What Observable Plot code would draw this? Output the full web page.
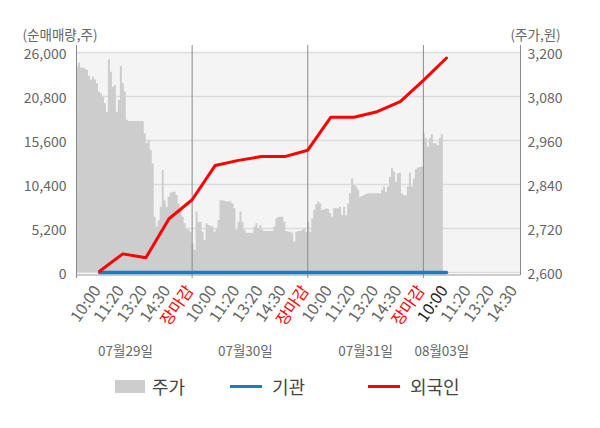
<!DOCTYPE html>
<html><head><meta charset="utf-8">
<script src="https://cdn.jsdelivr.net/npm/d3@7"></script>
<script src="https://cdn.jsdelivr.net/npm/@observablehq/plot@0.6"></script>
<style>
body{margin:0;background:#fff;font-family:"Noto Sans CJK KR","Noto Sans",sans-serif;}
#wrap{position:relative;width:600px;height:428px;overflow:hidden}
#chart{position:absolute;left:0;top:0}
.lg{position:absolute;top:375px;height:22px;display:flex;align-items:center;font-size:18px;color:#444;line-height:22px}
.sw{position:absolute}
</style></head><body>
<div id="wrap"><div id="chart"></div>
<div class="sw" style="left:115px;top:380px;width:30px;height:13px;background:#cdcdcd"></div>
<div class="lg" style="left:152px">주가</div>
<div class="sw" style="left:230px;top:385px;width:32px;height:3px;background:#1a7dc4"></div>
<div class="lg" style="left:272px">기관</div>
<div class="sw" style="left:368px;top:385px;width:32px;height:3px;background:#ff0000"></div>
<div class="lg" style="left:410px">외국인</div>
</div>
<script>
// x tick labels (one per slot)
const tickLabels = ["10:00","11:20","13:20","14:30","장마감","10:00","11:20","13:20","14:30","장마감","10:00","11:20","13:20","14:30","장마감","10:00","11:20","13:20","14:30"];
const dayLabels = ["07월29일","07월30일","07월31일","08월03일"];
const dayLabelSlot = [1.12, 6.3, 11.5, 14.8];
const dayStartSlot = [-1, 4, 9, 14];
const dayEndSlots = [4, 9, 14];
// left axis (순매매량) and right axis (주가) ticks
const volTicks = [0, 5200, 10400, 15600, 20800, 26000];
const priceTicks = [2600, 2720, 2840, 2960, 3080, 3200];
// 외국인 / 기관 net buying, one value per slot
const foreign = [150, 2200, 1750, 6350, 8600, 12650, 13250, 13700, 13700, 14450, 18350, 18350, 19000, 20200, 22700, 25350];
const inst = [0,0,0,0,0,0,0,0,0,0,0,0,0,0,0,0];
// 주가 per day
const priceDay1 = [3160,3171,3158,3158,3155,3151,3135,3124,3133,3125,3115,3092,3087,3078,3060,3037,3180,3146,3105,3110,3037,3069,3162,3115,3092,3015,
  3012,3012,3012,3012,3012,3012,3012,3012,
  2978,2951,2960,2933,2896,2751,2724,2742,2778,2878,2796,2778,2805,2816,2819,2819,2810,2787,2769,2751,2733,2719,2715,2710];
const priceDay2 = [2678,2660,2765,2737,2737,2710,2687,2733,2728,2726,2724,2710,2719,2742,2796,2796,2794,2792,2792,2792,2787,2774,2715,2737,2765,2737,2715,2707,2707,2707,2707,2724,2733,2719,2728,2715,2712,2712,2712,2712,2712,2724,2746,2751,2751,2751,2737,2712,2710,2710,2707,2683,2710,2712,2712,2715,2719,2710];
const priceDay3 = [2737,2710,2746,2769,2785,2792,2787,2769,2771,2774,2771,2760,2751,2774,2774,2774,2778,2755,2778,2755,2787,2815,2855,2837,2833,2824,2805,2807,2810,2813,2815,2815,2815,2815,2815,2815,2815,2824,2833,2819,2833,2860,2883,2874,2846,2869,2871,2815,2810,2809,2833,2871,2833,2855,2880,2885,2887,2887];
const priceDay4 = [2978,2965,2942,2965,2976,2951,2951,2946,2965,2976,2976];

const priceDays = [priceDay1, priceDay2, priceDay3, priceDay4];
const samplesPerDay = priceDay1.length;
const priceData = priceDays.flatMap((arr, d) => arr.map((p, j) => ({x: dayStartSlot[d] + j * 5 / samplesPerDay, p})));
const toVol = p => (p - priceTicks[0]) * volTicks[volTicks.length-1] / (priceTicks[priceTicks.length-1] - priceTicks[0]);

const xMin = -1, xMax = 18.2;
const ticks = tickLabels.map((label, k) => ({k, label}));
const gray = ticks.filter(t => t.label !== "장마감" && t.k !== foreign.length - 1);
const red = ticks.filter(t => t.label === "장마감");
const dark = ticks.filter(t => t.k === foreign.length - 1);
const fmt = d3.format(",");
const tickText = (data, fill) => Plot.text(data, {x: "k", text: "label", frameAnchor: "bottom", rotate: -55, textAnchor: "end", dy: 18, dx: 2, fontSize: 16, fill});

const chart = Plot.plot({
  width: 600, height: 428,
  marginTop: 52, marginBottom: 156, marginLeft: 76, marginRight: 80,
  style: {fontFamily: '"Noto Sans CJK KR","Noto Sans",sans-serif', background: "transparent"},
  x: {domain: [xMin, xMax], axis: null},
  y: {domain: [0, volTicks[volTicks.length-1]]},
  marks: [
    Plot.frame({fill: "#f4f4f4", stroke: null}),
    Plot.ruleY(volTicks, {stroke: "#dcdcdc", strokeWidth: 1.5}),
    Plot.areaY(priceData, {x: "x", y: d => toVol(d.p), fill: "#cdcdcd", curve: "step-after"}),
    Plot.ruleX(dayEndSlots, {stroke: "#8a8a8a", insetTop: -7, insetBottom: -6}),
    Plot.ruleX([xMin], {stroke: "#8a8a8a", insetTop: -7, insetBottom: -6}),
    Plot.ruleX([xMax], {stroke: "#8a8a8a", insetTop: -7, insetBottom: -3}),
    Plot.ruleY([0], {stroke: "#9a9a9a", dy: 2.5}),
    Plot.line(inst.map((v, k) => ({k, v})), {x: "k", y: "v", stroke: "#1a7dc4", strokeWidth: 3.5}),
    Plot.line(foreign.map((v, k) => ({k, v})), {x: "k", y: "v", stroke: "#ff0000", strokeWidth: 3}),
    Plot.axisY(volTicks, {anchor: "left", tickSize: 0, tickPadding: 10, fontSize: 14, fill: "#666", dy: 2, tickFormat: fmt, label: null}),
    Plot.axisY(volTicks, {anchor: "right", tickSize: 0, tickPadding: 7, fontSize: 14, fill: "#666", dy: 2, tickFormat: (d, i) => fmt(priceTicks[volTicks.indexOf(d)]), label: null}),
    tickText(gray, "#666"),
    tickText(red, "#ff0000"),
    tickText(dark, "#222"),
    Plot.text(dayLabels.map((label, i) => ({label, k: dayLabelSlot[i]})), {x: "k", text: "label", frameAnchor: "bottom", dy: 83, fill: "#666", fontSize: 13.5}),
    Plot.text(["(순매매량,주)"], {text: d => d, frameAnchor: "top-left", dx: -54, dy: -22, textAnchor: "start", fontSize: 13.5, fill: "#666"}),
    Plot.text(["(주가,원)"], {text: d => d, frameAnchor: "top-right", dx: -10, dy: -22, textAnchor: "start", fontSize: 13.5, fill: "#666"})
  ]
});
document.getElementById("chart").appendChild(chart);
</script>
</body></html>
